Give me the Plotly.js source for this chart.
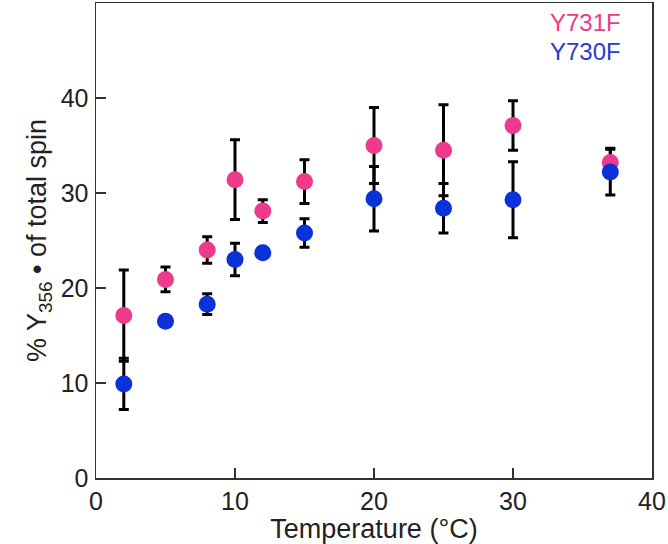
<!DOCTYPE html>
<html>
<head>
<meta charset="utf-8">
<script src="https://cdn.plot.ly/plotly-3.0.1.min.js"></script>
<style>html,body{margin:0;padding:0;background:#fff;}#chart{width:668px;height:544px;}</style>
</head>
<body>
<div id="chart"></div>
<script>
// Data
const temperatures = [2, 5, 8, 10, 12, 15, 20, 25, 30, 37];
const y731f = [17.1, 20.9, 24.0, 31.4, 28.1, 31.2, 35.0, 34.5, 37.1, 33.2];
const y731fErr = [4.8, 1.3, 1.4, 4.2, 1.2, 2.3, 4.0, 4.8, 2.6, 1.5];
const y730f = [9.9, 16.5, 18.3, 23.0, 23.7, 25.8, 29.4, 28.4, 29.3, 32.2];
const y730fErr = [2.7, 0.5, 1.1, 1.7, 0.5, 1.5, 3.4, 2.6, 4.0, 2.4];
const seriesNames = ["Y731F", "Y730F"];
const xTicks = [0, 10, 20, 30, 40];
const yTicks = [0, 10, 20, 30, 40];

const pink = "#EE3A8C";
const blue = "#0A32D8";
const font = "Liberation Sans, Arial, sans-serif";

function errTrace(y, e) {
  return {
    x: temperatures, y: y, type: "scatter", mode: "markers",
    marker: {size: 17, opacity: 0}, showlegend: false, hoverinfo: "skip",
    error_y: {type: "data", array: e, visible: true, color: "#000", thickness: 3, width: 5}
  };
}
function ptTrace(y, c, name) {
  return {
    x: temperatures, y: y, type: "scatter", mode: "markers", name: name,
    marker: {size: 17, color: c, line: {width: 0}}, showlegend: false
  };
}

const data = [
  errTrace(y731f, y731fErr),
  errTrace(y730f, y730fErr),
  ptTrace(y731f, pink, seriesNames[0]),
  ptTrace(y730f, blue, seriesNames[1])
];

const axisCommon = {
  showgrid: false, zeroline: false, showline: true, mirror: true,
  linecolor: "#333", linewidth: 1.5,
  ticks: "inside", ticklen: 10, tickwidth: 1.5, tickcolor: "#333",
  tickfont: {family: font, size: 25, color: "#222"}
};

const layout = {
  width: 668, height: 544,
  margin: {l: 96, r: 16, t: 3, b: 66},
  paper_bgcolor: "#fff", plot_bgcolor: "#fff",
  showlegend: false, hovermode: false,
  xaxis: Object.assign({}, axisCommon, {
    range: [0, 40], tickmode: "array", tickvals: xTicks, ticktext: xTicks.map(String),
    title: {text: "Temperature (°C)", font: {family: font, size: 27, color: "#222"}, standoff: 4}
  }),
  yaxis: Object.assign({}, axisCommon, {
    range: [0, 50], tickmode: "array", tickvals: yTicks, ticktext: yTicks.map(String),
    ticklabelstandoff: 1,
    title: {text: "% Y<sub>356</sub> • of total spin", font: {family: font, size: 27, color: "#222"}, standoff: 6}
  }),
  annotations: [
    {xref: "paper", yref: "paper", x: 0.946, y: 0.958, xanchor: "right", yanchor: "middle",
     text: seriesNames[0], showarrow: false, borderpad: 0, font: {family: font, size: 24, color: pink}},
    {xref: "paper", yref: "paper", x: 0.946, y: 0.897, xanchor: "right", yanchor: "middle",
     text: seriesNames[1], showarrow: false, borderpad: 0, font: {family: font, size: 24, color: "#2A3CCB"}}
  ]
};

Plotly.newPlot("chart", data, layout, {displayModeBar: false, staticPlot: true});
</script>
</body>
</html>
